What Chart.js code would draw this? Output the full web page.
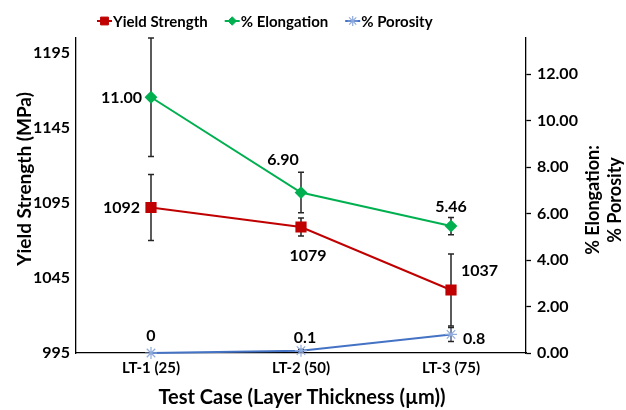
<!DOCTYPE html>
<html>
<head>
<meta charset="utf-8">
<script src="https://cdn.jsdelivr.net/npm/chart.js@4.4.0/dist/chart.umd.min.js"></script>
<style>
  html, body { margin: 0; padding: 0; background: #fff; }
</style>
</head>
<body>
<canvas id="chart" width="626" height="410"></canvas>
<script>
// values
const categories = ['LT-1 (25)', 'LT-2 (50)', 'LT-3 (75)'];
const yieldStrength = [1092, 1079, 1037];
const yieldErr = [22, 6, 24];
const elongation = [11.00, 6.90, 5.46];
const elongErr = [2.55, 0.87, 0.37];
const porosity = [0, 0.1, 0.8];
const porosityErr = [0, 0.05, 0.3];
const yieldTicks = [995, 1045, 1095, 1145, 1195];
const pctTicks = [0, 2, 4, 6, 8, 10, 12];

const FONT = 'Lato, "Open Sans", sans-serif';
Chart.defaults.font.family = FONT;
Chart.defaults.color = '#000';

// error bars, drawn under the markers
const errorBars = {
  id: 'errorBars',
  beforeDatasetsDraw(chart) {
    const ctx = chart.ctx;
    chart.data.datasets.forEach((ds, i) => {
      const meta = chart.getDatasetMeta(i);
      const scale = chart.scales[ds.yAxisID];
      ctx.save();
      ctx.strokeStyle = '#262626';
      ctx.lineWidth = 1.5;
      meta.data.forEach((pt, j) => {
        const e = ds.errors[j];
        if (!e) return;
        const top = scale.getPixelForValue(ds.data[j] + e);
        const bot = scale.getPixelForValue(ds.data[j] - e);
        ctx.beginPath();
        ctx.moveTo(pt.x, top); ctx.lineTo(pt.x, bot);
        ctx.moveTo(pt.x - 3, top); ctx.lineTo(pt.x + 3, top);
        ctx.moveTo(pt.x - 3, bot); ctx.lineTo(pt.x + 3, bot);
        ctx.stroke();
      });
      ctx.restore();
    });
  }
};

// value labels next to points
const pointLabels = {
  id: 'pointLabels',
  afterDatasetsDraw(chart) {
    const ctx = chart.ctx;
    ctx.save();
    ctx.font = 'bold 16px ' + FONT;
    ctx.fillStyle = '#000';
    ctx.textBaseline = 'middle';
    chart.data.datasets.forEach((ds, i) => {
      chart.getDatasetMeta(i).data.forEach((pt, j) => {
        const [dx, dy, align] = ds.labelPos[j];
        ctx.textAlign = align;
        ctx.fillText(ds.fmt(ds.data[j]), pt.x + dx, pt.y + dy);
      });
    });
    ctx.restore();
  }
};

// legend + axis titles
const chrome = {
  id: 'chrome',
  afterDraw(chart) {
    const ctx = chart.ctx;
    ctx.save();
    ctx.textBaseline = 'middle';

    // legend: short line with the marker on it, then the name
    ctx.font = 'bold 15px ' + FONT;
    let x = 97;
    const ly = 21;
    chart.data.datasets.forEach(ds => {
      ctx.strokeStyle = ds.borderColor;
      ctx.lineWidth = 2;
      ctx.beginPath(); ctx.moveTo(x, ly); ctx.lineTo(x + 15, ly); ctx.stroke();
      ctx.fillStyle = ds.pointBackgroundColor;
      ctx.strokeStyle = ds.pointBorderColor;
      ctx.lineWidth = ds.pointBorderWidth || 1;
      Chart.helpers.drawPoint(ctx, {
        pointStyle: ds.pointStyle, radius: ds.pointRadius * 0.85, borderWidth: ds.pointBorderWidth || 1
      }, x + 7.5, ly);
      ctx.fillStyle = '#000';
      ctx.textAlign = 'left';
      ctx.fillText(ds.label, x + 16, ly + 1);
      x += 16 + ctx.measureText(ds.label).width + 17;
    });

    // axis titles
    ctx.fillStyle = '#000';
    ctx.font = 'bold 20px ' + FONT;
    ctx.textAlign = 'center';
    ctx.fillText('Test Case (Layer Thickness (µm))', 302, 398);

    ctx.font = 'bold 19px ' + FONT;
    ctx.save();
    ctx.translate(25, 179);
    ctx.rotate(-Math.PI / 2);
    ctx.fillText('Yield Strength (MPa)', 0, 0);
    ctx.restore();

    ctx.font = 'bold 18px ' + FONT;
    ctx.save();
    ctx.translate(593, 200);
    ctx.rotate(-Math.PI / 2);
    ctx.fillText('% Elongation:', 0, 0);
    ctx.fillText('% Porosity', 0, 22);
    ctx.restore();

    ctx.restore();
  }
};

new Chart(document.getElementById('chart'), {
  type: 'line',
  data: {
    labels: categories,
    datasets: [{
      label: 'Yield Strength',
      data: yieldStrength,
      errors: yieldErr,
      yAxisID: 'y',
      borderColor: '#c00000',
      backgroundColor: '#c00000',
      pointBackgroundColor: '#c00000',
      pointBorderColor: '#c00000',
      pointStyle: 'rect',
      pointRadius: 6.5,
      borderWidth: 2,
      clip: false,
      fmt: v => String(v),
      labelPos: [[-11, 0, 'right'], [7, 29, 'center'], [10, -19, 'left']]
    }, {
      label: '% Elongation',
      data: elongation,
      errors: elongErr,
      yAxisID: 'y1',
      borderColor: '#00b050',
      backgroundColor: '#00b050',
      pointBackgroundColor: '#00b050',
      pointBorderColor: '#00b050',
      pointStyle: 'rectRot',
      pointRadius: 5,
      borderWidth: 2,
      clip: false,
      fmt: v => v.toFixed(2),
      labelPos: [[-9, 1, 'right'], [-18, -33, 'center'], [0, -19, 'center']]
    }, {
      label: '% Porosity',
      data: porosity,
      errors: porosityErr,
      yAxisID: 'y1',
      borderColor: '#4472c4',
      backgroundColor: '#8faadc',
      pointBackgroundColor: '#8faadc',
      pointBorderColor: '#8faadc',
      pointStyle: 'star',
      pointRadius: 6,
      pointBorderWidth: 1.2,
      borderWidth: 2,
      clip: false,
      fmt: v => String(v),
      labelPos: [[0, -17, 'center'], [4, -13, 'center'], [12, 4, 'left']]
    }]
  },
  options: {
    responsive: false,
    animation: false,
    layout: { padding: { top: 38, left: 0, right: 0, bottom: 0 } },
    plugins: {
      legend: { display: false },
      tooltip: { enabled: false }
    },
    scales: {
      x: {
        type: 'category',
        offset: true,
        grid: { display: false, drawTicks: false },
        border: { display: true, color: '#000', width: 1.3 },
        ticks: { font: { size: 15, weight: 'bold' }, padding: 6, color: '#000' },
        afterFit: s => { s.height = 57; }
      },
      y: {
        position: 'left',
        min: 995,
        max: 1205,
        grid: { display: false, drawTicks: false },
        border: { display: true, color: '#000', width: 1.3 },
        ticks: { font: { size: 16, weight: 'bold' }, padding: 6, color: '#000', callback: v => String(v) },
        afterBuildTicks: s => { s.ticks = yieldTicks.map(v => ({ value: v })); },
        afterFit: s => { s.width = 76; }
      },
      y1: {
        position: 'right',
        min: 0,
        max: 13.55,
        grid: { display: true, drawOnChartArea: false, drawTicks: true, tickLength: 5, color: '#000', tickWidth: 1.3 },
        border: { display: true, color: '#000', width: 1.3 },
        ticks: { font: { size: 16, weight: 'bold' }, padding: 6, color: '#000', callback: v => v.toFixed(2) },
        afterBuildTicks: s => { s.ticks = pctTicks.map(v => ({ value: v })); },
        afterFit: s => { s.width = 100; }
      }
    }
  },
  plugins: [errorBars, pointLabels, chrome]
});
</script>
</body>
</html>
